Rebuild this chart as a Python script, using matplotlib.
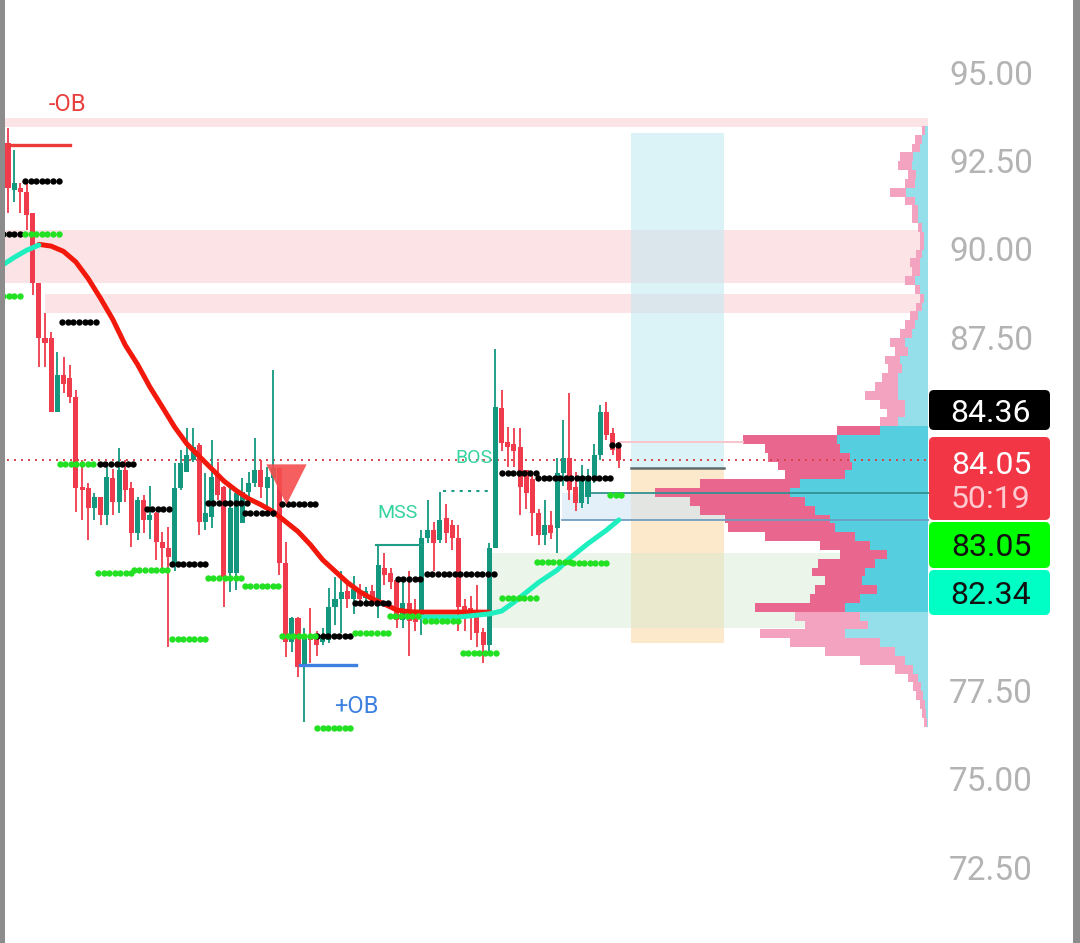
import numpy as np
import matplotlib.pyplot as plt
from matplotlib.patches import Rectangle, FancyBboxPatch

plt.rcParams['font.family'] = ['Roboto', 'DejaVu Sans']

# ---- candles (one per bar) ----
opens = [93.02, 91.70, 91.74, 91.63, 91.04, 89.06, 87.50, 87.50, 85.40, 86.45,
         86.37, 85.83, 83.28, 83.25, 82.69, 83.00, 82.49, 83.55, 82.86, 83.76,
         83.25, 81.98, 82.91, 82.35, 82.55, 81.73, 81.56, 81.10, 83.25, 83.70,
         84.05, 84.47, 82.29, 82.43, 83.62, 83.28, 80.85, 80.85, 82.26, 83.14,
         83.40, 83.76, 83.25, 83.54, 83.82, 81.13, 78.89, 79.57, 78.24, 79.09,
         79.00, 78.90, 78.95, 79.88, 80.10, 80.33, 80.10, 80.35, 80.15, 80.35,
         79.90, 81.00, 80.85, 80.65, 79.52, 80.00, 79.60, 79.55, 81.84, 82.06,
         81.78, 82.40, 82.20, 81.84, 79.90, 79.85, 79.80, 79.17, 78.80, 81.56,
         85.52, 84.55, 84.50, 84.42, 83.76, 83.50, 82.55, 81.92, 82.20, 82.12,
         83.68, 84.10, 83.28, 82.83, 83.00, 83.55, 84.19, 85.40, 84.80, 84.47]
highs = [93.44, 92.82, 91.89, 91.97, 91.04, 89.06, 88.21, 87.67, 87.10, 86.96,
         86.74, 86.03, 84.05, 83.40, 83.10, 83.00, 83.85, 83.80, 84.39, 84.05,
         83.42, 83.00, 83.05, 83.30, 82.57, 82.00, 82.15, 83.96, 84.33, 84.95,
         84.95, 84.53, 83.68, 84.61, 84.00, 83.30, 83.40, 83.25, 83.55, 83.70,
         84.67, 84.05, 83.85, 86.59, 83.82, 81.73, 79.60, 79.60, 79.30, 79.85,
         79.20, 79.30, 80.42, 80.73, 80.90, 80.65, 80.75, 80.55, 80.45, 80.50,
         81.64, 81.40, 81.00, 80.73, 80.60, 80.90, 80.10, 82.06, 82.91, 82.30,
         83.14, 82.80, 82.35, 82.20, 80.10, 80.20, 80.50, 79.30, 81.70, 87.18,
         86.03, 84.98, 84.95, 84.95, 83.76, 83.70, 82.65, 82.91, 82.60, 84.10,
         85.18, 85.94, 83.70, 83.90, 83.80, 84.50, 85.60, 85.70, 84.95, 84.55]
lows = [91.04, 91.35, 91.04, 90.56, 88.72, 86.68, 86.68, 85.40, 85.40, 85.94,
        85.66, 82.57, 82.35, 81.78, 82.35, 82.20, 82.20, 82.49, 82.55, 82.86,
        81.58, 81.78, 81.98, 81.80, 81.22, 80.90, 78.75, 80.90, 83.20, 83.70,
        84.00, 81.92, 82.06, 82.12, 82.90, 79.88, 80.31, 80.36, 82.26, 82.90,
        83.28, 82.97, 82.71, 82.43, 80.80, 78.47, 78.60, 77.90, 76.63, 78.30,
        78.50, 78.80, 78.86, 79.38, 79.15, 79.85, 79.70, 79.95, 80.00, 79.95,
        79.57, 80.50, 80.40, 79.30, 79.30, 78.50, 79.20, 79.10, 81.70, 80.90,
        81.70, 81.70, 81.50, 79.20, 79.20, 78.95, 78.75, 78.30, 78.60, 81.56,
        84.30, 83.85, 83.85, 82.49, 82.65, 81.90, 81.64, 81.64, 81.80, 81.40,
        83.30, 82.91, 82.60, 82.70, 82.80, 83.40, 84.05, 84.61, 84.20, 83.82]
closes = [91.74, 91.90, 91.63, 90.98, 89.06, 87.50, 87.35, 85.40, 86.45, 86.20,
          85.83, 83.25, 83.20, 82.69, 83.00, 82.49, 83.57, 82.86, 83.76, 83.20,
          81.98, 82.91, 82.35, 82.49, 81.73, 81.56, 81.30, 83.25, 83.96, 84.19,
          84.42, 82.29, 82.55, 83.57, 83.05, 80.73, 82.69, 83.11, 83.14, 83.40,
          83.76, 83.28, 83.57, 83.82, 81.13, 78.89, 79.57, 78.18, 79.03, 78.95,
          78.80, 79.10, 79.88, 80.10, 80.30, 80.10, 80.40, 80.10, 80.35, 80.05,
          81.07, 80.80, 80.60, 79.52, 80.00, 79.50, 79.45, 81.84, 82.06, 81.70,
          82.35, 81.98, 81.84, 79.88, 79.75, 79.65, 79.15, 78.80, 81.56, 85.55,
          84.53, 84.42, 84.30, 83.28, 83.11, 82.55, 81.92, 82.20, 81.98, 83.68,
          84.10, 83.20, 82.83, 83.50, 83.60, 84.19, 85.40, 84.75, 84.33, 84.05]

# ---- moving average (two colours) ----
ma_red_bars = [5, 7, 9, 11, 13, 15, 17, 19, 21, 23, 25, 27, 29, 31, 33, 35, 37, 39, 41,
               43, 45, 47, 49, 51, 53, 55, 57, 59, 61, 63, 65, 67, 71, 75, 78]
ma_red = [90.15, 90.10, 89.95, 89.65, 89.18, 88.62, 88.02, 87.30, 86.75, 86.11, 85.55,
          84.98, 84.50, 84.15, 83.80, 83.45, 83.18, 82.95, 82.78, 82.58, 82.30, 82.02,
          81.65, 81.22, 80.90, 80.58, 80.32, 80.12, 79.97, 79.80, 79.75, 79.74, 79.74,
          79.74, 79.74]
ma_up_bars_a = [-1, 1, 3, 5]
ma_up_a = [89.55, 89.78, 89.98, 90.13]
ma_up_bars_b = [67, 73, 78, 80, 82, 84, 86, 89, 91, 94, 97, 99]
ma_up_b = [79.60, 79.60, 79.69, 79.77, 80.02, 80.30, 80.58, 80.93, 81.26, 81.68, 82.06, 82.35]

# ---- liquidity levels (start bar, end bar, price) ----
black_levels = [(2.8, 8.4, 91.94), (-0.8, 2.3, 90.44), (8.8, 14.4, 87.95), (14.9, 20.3, 83.93),
                (22.5, 26.3, 82.66), (26.6, 32.3, 81.10), (32.4, 38.7, 82.83), (38.4, 43.6, 82.55),
                (44.4, 50.1, 82.80), (50.1, 55.9, 79.06), (56.2, 61.9, 80.00), (63.2, 66.8, 80.68),
                (67.9, 79.3, 80.82), (80.1, 85.7, 83.68), (85.9, 97.6, 83.54), (97.9, 99.2, 84.47)]
green_levels = [(2.8, 8.4, 90.44), (-0.8, 2.3, 88.69), (8.4, 14.4, 83.93), (14.6, 20.3, 80.85),
                (20.4, 26.3, 80.93), (26.6, 32.3, 78.98), (32.4, 38.1, 80.71), (38.4, 44.1, 80.48),
                (44.4, 49.8, 79.06), (50.1, 55.9, 76.46), (56.2, 61.9, 79.15), (61.9, 66.8, 79.63),
                (67.6, 73.7, 79.49), (73.7, 79.7, 78.58), (80.1, 85.7, 80.14), (85.7, 91.6, 81.16),
                (91.6, 97.6, 81.13), (97.6, 99.7, 83.05)]

# ---- zones ----
supply_zones = [(-1.3, 93.47, 93.73), (-1.3, 89.06, 90.56), (6.0, 88.21, 88.75)]
demand_zone = (78.1, 79.29, 81.41)
target_zone = (101.0, 116.0, 83.82, 93.30)   # bars, entry, target
stop_zone = (101.0, 116.0, 78.87, 83.82)
fvg_zone = (89.8, 116.7, 82.35, 83.11)

# ---- volume profile ----
profile_levels = np.arange(93.375, 76.6, -0.25)
sell_vol = [3, 7, 8, 13, 14, 8, 10, 16, 10, 6, 6, 4, 4, 4, 6, 10, 8, 10, 5, 4, 6, 8, 10, 12,
            15, 13, 15, 14, 16, 23, 33, 25, 18, 18, 43, 94, 75, 82, 74, 60, 100, 135, 115, 115,
            105, 107, 90, 50, 47, 57, 53, 37, 62, 50, 90, 65, 63, 85, 90, 70, 45, 18, 10, 8,
            7, 5, 4, 3]
buy_vol = [3, 6, 8, 15, 16, 12, 13, 22, 13, 10, 10, 6, 4, 4, 6, 8, 8, 13, 8, 4, 6, 10, 13, 16,
           23, 20, 28, 26, 30, 30, 30, 23, 23, 30, 48, 91, 88, 78, 76, 83, 128, 138, 123, 113,
           98, 93, 73, 58, 41, 53, 63, 66, 51, 68, 83, 68, 60, 83, 48, 33, 23, 15, 10, 7,
           5, 3, 2, 1]
va_low, va_high = 79.75, 84.95

last_price = 84.05
# 85.00, 82.50 and 80.00 sit behind the price tags
price_ticks = [95.0, 92.5, 90.0, 87.5, 77.5, 75.0, 72.5]
tags = [("84.36", None, '#000000', 'white'), ("84.05", "50:19", '#f23645', 'white'),
        ("83.05", None, '#00ff00', '#111111'), ("82.34", None, '#00ffc4', '#111111')]

RED = '#ef3b4c'
TEAL = '#14977f'
px_per_bar = 6.17
prof_right = 149.1

fig = plt.figure(figsize=(10.8, 9.43), dpi=100)
ax = fig.add_axes([0, 0, 1, 1])
ax.set_xlim(-8 / px_per_bar, 1072 / px_per_bar)
ax.set_ylim(70.375, 97.066)
ax.axis('off')

# zones
for x0, y0, y1 in supply_zones:
    ax.add_patch(Rectangle((x0, y0), prof_right - x0, y1 - y0, color='#fce4e6', lw=0, zorder=0.5))
x0, y0, y1 = demand_zone
x_a, x_b, e, t = target_zone
ax.add_patch(Rectangle((x_a, e), x_b - x_a, t - e, color='#bfe8f2', alpha=0.55, lw=0, zorder=0.6))
x_a, x_b, s, e = stop_zone
ax.add_patch(Rectangle((x_a, s), x_b - x_a, e - s, color='#fbd59a', alpha=0.5, lw=0, zorder=0.6))
ax.add_patch(Rectangle((x0, y0), prof_right - x0, y1 - y0, color='#d6e9d2', alpha=0.45, lw=0, zorder=0.7))
fx0, fx1, fy0, fy1 = fvg_zone
ax.add_patch(Rectangle((fx0, fy0), fx1 - fx0, fy1 - fy0, color='#c9e2f7', alpha=0.5, lw=0, zorder=0.8))

# volume profile
lv = np.array(profile_levels)
sv = np.array(sell_vol) / px_per_bar
bv = np.array(buy_vol) / px_per_bar
in_va = (lv >= va_low) & (lv <= va_high)
ax.barh(lv, -bv, left=prof_right, height=0.25, lw=0, zorder=1,
        color=np.where(in_va, '#55cfe0', '#95dfea'))
ax.barh(lv, -sv, left=prof_right - bv, height=0.25, lw=0, zorder=1,
        color=np.where(in_va, '#e9678f', '#f3a3bf'))

# level lines
ax.plot([x_a, x_b], [e, e], color='#5f6b6b', lw=1.8, zorder=2)
ax.plot([94.7, prof_right], [fy1, fy1], color='#2f8f8f', lw=1.4, alpha=0.9, zorder=2)
ax.plot([fx0, prof_right], [fy0, fy0], color='#6e9cc0', lw=1.4, alpha=0.9, zorder=2)
ax.plot([99.2, 119.1], [84.56, 84.56], color='#f5c6cc', lw=1.5, zorder=2)
ax.plot([-1.3, prof_right], [last_price, last_price], color='#d9434b', lw=1.4,
        linestyle=(0, (1, 2.6)), zorder=2.5)

# candles
bars = np.arange(len(opens))
o, h, l, c = map(np.array, (opens, highs, lows, closes))
cols = np.where(c >= o, TEAL, RED)
ax.vlines(bars, l, h, colors=cols, lw=1.3, zorder=3)
body = np.where(np.abs(c - o) < 0.06, 0.06, c - o)
ax.bar(bars, body, bottom=o, width=0.82, color=cols, lw=0, zorder=3)

# moving average
ax.plot(ma_red_bars, ma_red, color='#f2190c', lw=3.6, solid_capstyle='round', zorder=4)
ax.plot(ma_up_bars_a, ma_up_a, color='#1eefbf', lw=3.6, solid_capstyle='round', zorder=4)
ax.plot(ma_up_bars_b, ma_up_b, color='#1eefbf', lw=3.6, solid_capstyle='round', zorder=4)

# structure
ax.plot([59.6, 67.1], [81.64, 81.64], color='#1f9e87', lw=1.5, zorder=3.5)
ax.plot([70.5, 78.6], [83.17, 83.17], color='#1f9e87', lw=1.5, linestyle=(0, (1.5, 2.5)), zorder=3.5)
ax.text(63.2, 82.55, "MSS", color='#35d39f', fontsize=14, ha='center', va='center', zorder=6)
ax.text(75.5, 84.11, "BOS", color='#35d39f', fontsize=14, ha='center', va='center', zorder=6)

# liquidity dots
for lev, col in ((black_levels, '#000000'), (green_levels, '#22e022')):
    for a, b, p in lev:
        xs = np.arange(a, b + 0.01, 0.9)
        ax.plot(xs, np.full(len(xs), p), 'o', color=col, ms=4.6, mew=0, zorder=5)

# order blocks
ax.plot([0, 10.0], [92.96, 92.96], color='#ec3b3b', lw=2.4, zorder=5)
ax.text(9.7, 94.12, "-OB", color='#e8403f', fontsize=17, ha='center', va='center')
ax.plot([47.3, 56.4], [78.24, 78.24], color='#3d80e0', lw=2.4, zorder=5)
ax.text(56.4, 77.08, "+OB", color='#3d80e0', fontsize=17, ha='center', va='center')

# sell signal
ax.scatter([45], [83.37], marker='v', s=29 ** 2, color='#f54e4e', alpha=0.9, lw=0, zorder=6)

# price scale
for p in price_ticks:
    ax.text(159.3, p - 0.08, f"{p:.2f}", color='#b3b3b3', fontsize=24, ha='center', va='center')

# price tags (pixel overlay)
lab = fig.add_axes([0, 0, 1, 1])
lab.set_xlim(0, 1080)
lab.set_ylim(943, 0)
lab.axis('off')
lab.patch.set_alpha(0)
tops = [390, 437, 522, 570]
heights = [40, 83, 46, 45]
for (t1, t2, fc, tc), top, hgt in zip(tags, tops, heights):
    lab.add_patch(FancyBboxPatch((929, top), 121, hgt, boxstyle="round,pad=0,rounding_size=5",
                                 fc=fc, ec='none'))
    if t2 is None:
        lab.text(991, top + hgt / 2 + 3, t1, color=tc, fontsize=23, ha='center', va='center')
    else:
        lab.text(991, top + 28, t1, color=tc, fontsize=23, ha='center', va='center')
        lab.text(991, top + 62, t2, color='#ffc9d0', fontsize=23, ha='center', va='center')

# screen borders
fig.add_artist(Rectangle((0, 0), 5 / 1080, 1, transform=fig.transFigure, color='#8c8c8c', lw=0))
fig.add_artist(Rectangle((1073 / 1080, 0), 7 / 1080, 1, transform=fig.transFigure, color='#8c8c8c', lw=0))

fig.savefig('out.png', dpi=100)
